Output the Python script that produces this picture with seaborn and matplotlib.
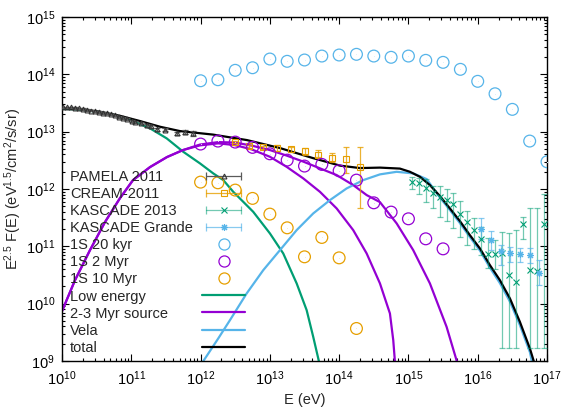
import numpy as np
import matplotlib
matplotlib.use("Agg")
import matplotlib.pyplot as plt
import seaborn as sns
from matplotlib.lines import Line2D
from matplotlib.legend_handler import HandlerLine2D, HandlerTuple

# ---- data (log10 values) ----
# PAMELA 2011
pam_logE = [10.019, 10.076, 10.134, 10.192, 10.250, 10.308, 10.365, 10.423, 10.481,
            10.538, 10.596, 10.654, 10.711, 10.769, 10.827, 10.885, 10.942, 11.010,
            11.058, 11.136, 11.222, 11.289, 11.375, 11.486, 11.655, 11.775, 11.886]
pam_logF = [13.424, 13.424, 13.424, 13.417, 13.407, 13.394, 13.377, 13.365, 13.354,
            13.342, 13.330, 13.319, 13.302, 13.285, 13.260, 13.237, 13.215, 13.190,
            13.168, 13.145, 13.110, 13.093, 13.040, 13.033, 12.970, 12.993, 12.970]
pam_relerr = [0.03, 0.03, 0.03, 0.03, 0.03, 0.03, 0.03, 0.03, 0.03,
              0.03, 0.03, 0.03, 0.03, 0.03, 0.035, 0.035, 0.035, 0.04,
              0.04, 0.04, 0.045, 0.05, 0.05, 0.06, 0.07, 0.08, 0.09]

# CREAM-2011
cream_logE = [12.5, 12.7, 12.9, 13.1, 13.3, 13.5, 13.7, 13.9, 14.1, 14.3]
cream_logF = [12.824, 12.749, 12.726, 12.718, 12.690, 12.655, 12.597, 12.534, 12.517, 12.387]
cream_hi = [12.845, 12.775, 12.755, 12.766, 12.736, 12.708, 12.679, 12.627, 12.726, 12.726]
cream_lo = [12.800, 12.720, 12.695, 12.667, 12.639, 12.592, 12.557, 12.469, 12.283, 11.661]

# KASCADE 2013
kas_logE = [15.05, 15.15, 15.25, 15.35, 15.45, 15.55, 15.65, 15.75, 15.85, 15.95,
            16.05, 16.15, 16.25, 16.35, 16.45, 16.55, 16.65, 16.75, 16.85, 16.95]
kas_logF = [12.115, 12.098, 12.021, 11.934, 11.860, 11.810, 11.736, 11.562, 11.428, 11.283,
            11.121, 10.864, 10.864, 10.876, 10.497, 10.380, 11.387, 10.585, 10.572, 11.387]
kas_hi = [12.203, 12.185, 12.173, 12.051, 12.051, 11.998, 11.928, 11.789, 11.614, 11.492,
          11.335, 11.143, 11.108, 11.248, 11.231, 11.283, 11.515, 11.667, 11.667, 11.911]
kas_lo = [11.998, 11.906, 11.777, 11.667, 11.510, 11.440, 11.318, 11.161, 11.021, 10.951,
          10.850, 10.620, 10.600, 9.220, 9.220, 9.220, 11.126, 9.220, 9.220, 9.220]

# KASCADE Grande
kg_logE = [16.05, 16.19, 16.33, 16.47, 16.61, 16.75, 16.89]
kg_logF = [11.309, 11.108, 10.925, 10.887, 10.859, 10.841, 10.532]
kg_hi = [11.487, 11.271, 11.021, 10.991, 10.974, 10.963, 10.759]
kg_lo = [11.126, 10.934, 10.672, 10.729, 10.729, 10.701, 10.323]

# one-source models
s20k_logE = [12.0, 12.25, 12.5, 12.75, 13.0, 13.25, 13.5, 13.75, 14.0, 14.25, 14.5,
             14.75, 15.0, 15.25, 15.5, 15.75, 16.0, 16.25, 16.5, 16.75, 17.0]
s20k_logF = [13.888, 13.906, 14.070, 14.115, 14.267, 14.227, 14.250, 14.319, 14.337, 14.349,
             14.319, 14.297, 14.319, 14.244, 14.209, 14.087, 13.878, 13.661, 13.389, 12.836, 12.475]
s2m_logE = [12.0, 12.25, 12.5, 12.75, 13.0, 13.25, 13.5, 13.75, 14.0, 14.25, 14.5,
            14.75, 15.0, 15.25, 15.5]
s2m_logF = [12.784, 12.836, 12.818, 12.726, 12.614, 12.504, 12.400, 12.429, 12.318, 12.155,
            11.759, 11.597, 11.480, 11.131, 10.956]
s10m_logE = [12.0, 12.25, 12.5, 12.75, 13.0, 13.25, 13.5, 13.75, 14.0, 14.25]
s10m_logF = [12.120, 12.108, 11.981, 11.836, 11.562, 11.323, 10.817, 11.155, 10.799, 9.567]

# model curves
low_logE = [10.0, 10.26, 10.548, 10.736, 10.934, 11.270, 11.511, 11.750, 11.991, 12.183,
            12.328, 12.472, 12.760, 13.001, 13.193, 13.387, 13.531, 13.626, 13.709]
low_logF = [13.400, 13.386, 13.340, 13.295, 13.232, 13.058, 12.883, 12.649, 12.447, 12.272,
            12.155, 11.951, 11.602, 11.225, 10.876, 10.353, 9.887, 9.421, 8.990]

myr2_logE = [10.0, 10.188, 10.404, 10.620, 10.837, 11.025, 11.270, 11.515, 11.746,
             11.991, 12.255, 12.496, 12.737, 13.001, 13.242, 13.482, 13.723, 13.964,
             14.203, 14.397, 14.589, 14.830, 15.069, 15.310, 15.551, 15.700]
myr2_logF = [9.869, 10.410, 10.934, 11.422, 11.841, 12.155, 12.382, 12.557, 12.679,
             12.775, 12.818, 12.810, 12.757, 12.679, 12.583, 12.478, 12.360, 12.243,
             12.068, 11.894, 11.771, 11.400, 10.934, 10.353, 9.595, 8.990]
myr3_logE = [10.0, 10.188, 10.404, 10.620, 10.837, 11.025, 11.270, 11.515, 11.746,
             11.991, 12.255, 12.496, 12.737, 13.001, 13.242, 13.482, 13.723, 13.964,
             14.203, 14.397, 14.589, 14.733, 14.781, 14.805]
myr3_logF = [9.869, 10.410, 10.934, 11.422, 11.841, 12.155, 12.382, 12.557, 12.679,
             12.761, 12.796, 12.766, 12.691, 12.562, 12.387, 12.185, 11.951, 11.661,
             11.283, 10.876, 10.353, 9.829, 9.363, 8.990]

vela_logE = [12.035, 12.255, 12.424, 12.665, 12.905, 13.146, 13.387, 13.626, 13.867, 14.108,
             14.348, 14.589, 14.830, 15.069, 15.263, 15.455, 15.599, 15.743, 15.887, 16.032,
             16.176, 16.320, 16.465, 16.609, 16.753, 16.782]
vela_logF = [8.990, 9.393, 9.712, 10.178, 10.585, 10.934, 11.283, 11.574, 11.806, 12.010,
             12.155, 12.255, 12.300, 12.272, 12.173, 11.850, 11.632, 11.405, 11.161, 10.925,
             10.628, 10.358, 10.035, 9.625, 9.154, 8.990]

tot_logE = [10.0, 10.260, 10.548, 10.837, 11.126, 11.414, 11.703, 12.179, 12.670, 13.146,
            13.622, 14.012, 14.300, 14.589, 14.877, 15.022, 15.166, 15.310, 15.455, 15.599,
            15.743, 15.887, 16.032, 16.176, 16.320, 16.465, 16.609, 16.753, 16.811]
tot_logF = [13.407, 13.394, 13.347, 13.277, 13.185, 13.086, 13.010, 12.949, 12.853, 12.714,
            12.539, 12.408, 12.365, 12.373, 12.356, 12.300, 12.213, 12.068, 11.876, 11.661,
            11.440, 11.195, 10.963, 10.672, 10.410, 10.091, 9.682, 9.218, 8.990]

labels = ["PAMELA 2011", "CREAM-2011", "KASCADE 2013", "KASCADE Grande",
          "1S 20 kyr", "1S 2 Myr", "1S 10 Myr",
          "Low energy", "2-3 Myr source", "Vela", "total"]

c_pam = "#5a5a5a"
c_cream = "#e69f00"
c_kas = "#009e73"
c_kg = "#56b4e9"
c_blue = "#56b4e9"
c_purple = "#9400d3"
c_orange = "#e69f00"
c_green = "#009e73"

p = lambda v: 10 ** np.asarray(v, dtype=float)

sns.set_style("ticks")
plt.rcParams["font.family"] = ["Liberation Sans", "DejaVu Sans"]
plt.rcParams["mathtext.default"] = "regular"
FS = 10.5

fig = plt.figure(figsize=(5.81, 4.07), dpi=100)
ax = fig.add_axes([62 / 581, 46 / 407, 485 / 581, 344 / 407])
ax.set_xscale("log")
ax.set_yscale("log")

# model lines
lw = 1.6
sns.lineplot(x=p(low_logE), y=p(low_logF), color=c_green, lw=lw, ax=ax, sort=False)
sns.lineplot(x=p(myr2_logE), y=p(myr2_logF), color=c_purple, lw=lw, ax=ax, sort=False)
sns.lineplot(x=p(myr3_logE), y=p(myr3_logF), color=c_purple, lw=lw, ax=ax, sort=False)
sns.lineplot(x=p(vela_logE), y=p(vela_logF), color=c_blue, lw=lw, ax=ax, sort=False)
sns.lineplot(x=p(tot_logE), y=p(tot_logF), color="black", lw=lw, ax=ax, sort=False)

# data with error bars
def errbars(logE, logF, lo, hi, color, marker, ms, alpha=1.0, mcolor=None):
    x, y = p(logE), p(logF)
    ax.errorbar(x, y, yerr=[y - p(lo), p(hi) - y], fmt="none", ecolor=color,
                elinewidth=0.9, capsize=2.5, capthick=0.9, alpha=alpha, zorder=3)
    ax.plot(x, y, ls="none", marker=marker, ms=ms, mfc="none",
            mec=mcolor or color, mew=0.8, zorder=4)

pam_lo = np.log10(p(pam_logF) * (1 - np.asarray(pam_relerr)))
pam_hi = np.log10(p(pam_logF) * (1 + np.asarray(pam_relerr)))
errbars(pam_logE, pam_logF, pam_lo, pam_hi, c_pam, "^", 3.5, mcolor="#333333")
errbars(cream_logE, cream_logF, cream_lo, cream_hi, c_cream, "s", 4.5, alpha=0.8)
errbars(kas_logE, kas_logF, kas_lo, kas_hi, c_kas, "x", 4, alpha=0.55, mcolor=c_kas)
errbars(kg_logE, kg_logF, kg_lo, kg_hi, c_kg, (8, 2, 0), 5, alpha=0.7)

# one-source circles
for le, lf, c in [(s20k_logE, s20k_logF, c_blue), (s2m_logE, s2m_logF, c_purple),
                  (s10m_logE, s10m_logF, c_orange)]:
    sns.scatterplot(x=p(le), y=p(lf), marker="o", s=72, facecolor="none",
                    edgecolor=c, linewidth=0.9, ax=ax, zorder=5)
    sns.scatterplot(x=p(le), y=p(lf), marker=".", s=2, color=c, linewidth=0,
                    ax=ax, zorder=5)

ax.set_xlim(1e10, 1e17)
ax.set_ylim(1e9, 1e15)
ax.set_xticks(p(range(10, 18)))
ax.set_yticks(p(range(9, 16)))
ax.tick_params(which="both", direction="in", top=True, right=True,
               labelsize=FS, colors="black", width=0.8)
ax.tick_params(which="major", length=5, pad=5)
ax.tick_params(axis="x", which="major", pad=6)
ax.tick_params(which="minor", length=2.5)
for s in ax.spines.values():
    s.set_linewidth(1.0)
    s.set_color("black")
ax.set_xlabel("E (eV)", fontsize=FS)
ax.set_ylabel(r"E$^{2.5}$ F(E) (eV$^{1.5}$/cm$^2$/s/sr)", fontsize=FS)
ax.yaxis.set_label_coords(-0.078, 0.5)
ax.xaxis.set_label_coords(0.5, -0.093)

# legend (gnuplot-like: text left, sample right)
def bar_handle(color, marker, ms, mcolor=None, alpha=1.0):
    cap = Line2D([], [], color=color, lw=0.9, marker="|", ms=6, mew=0.9, alpha=alpha)
    mk = Line2D([], [], ls="none", marker=marker, ms=ms, mfc="none",
                mec=mcolor or color, mew=0.8)
    return (cap, mk)

bar_hs = [bar_handle(c_pam, "^", 3.5, "#333333"), bar_handle(c_cream, "s", 4.5, alpha=0.8),
          bar_handle(c_kas, "x", 4, alpha=0.55), bar_handle(c_kg, (8, 2, 0), 5, alpha=0.7)]
circ_hs = [Line2D([], [], ls="none", marker="o", ms=8, mfc="none", mec=c, mew=0.9)
           for c in (c_blue, c_purple, c_orange)]
line_hs = [Line2D([], [], color=c, lw=lw) for c in (c_green, c_purple, c_blue, "black")]
handles = bar_hs + circ_hs + line_hs
hmap = {tuple: HandlerTuple(ndivide=1, pad=0)}
for h in bar_hs:
    hmap[h[0]] = HandlerLine2D(numpoints=2)

leg = ax.legend(handles, labels, loc="upper left", bbox_to_anchor=(0.0165, 0.555),
                frameon=False, markerfirst=False, handlelength=3.0, handletextpad=0.6,
                labelspacing=0.21, borderpad=0, borderaxespad=0, fontsize=FS,
                handler_map=hmap)

# left-align the label texts while keeping the samples in one column
fig.canvas.draw()
r = fig.canvas.get_renderer()
widths = [t.get_window_extent(r).width for t in leg.get_texts()]
wmax = max(widths)
rows = leg._legend_handle_box.get_children()[0].get_children()
for row, w in zip(rows, widths):
    row.sep = row.sep + (wmax - w) * 72.0 / fig.dpi

fig.savefig("out.png", dpi=100)
